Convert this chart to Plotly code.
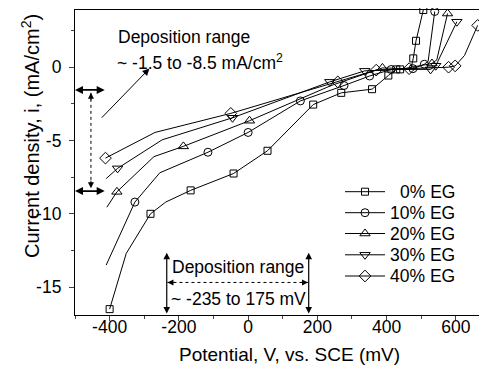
import plotly.graph_objects as go

# ---- data (potential in mV vs SCE, current density in mA/cm2) ----
labels = ["0% EG", "10% EG", "20% EG", "30% EG", "40% EG"]

pot_0 = [-400, -352, -282, -238, -166, -42, 56, 188, 269, 358, 405, 428, 439, 470, 477, 485, 506]
cur_0 = [-16.5, -12.7, -10.0, -9.2, -8.4, -7.25, -5.7, -2.55, -1.75, -1.5, -0.57, -0.15, -0.15, -0.12, 0.6, 1.8, 3.9]
mk_0 = [0, 2, 4, 5, 6, 7, 8, 9, 10, 11, 12, 14, 15, 16]

pot_10 = [-410, -327, -255, -116, 0, 151, 277, 351, 413, 476, 509, 520, 539]
cur_10 = [-13.5, -9.2, -7.2, -5.8, -4.45, -2.3, -1.25, -0.6, -0.16, -0.1, 0.2, 0.4, 3.8]
mk_10 = [1, 3, 4, 5, 6, 7, 8, 9, 10, 12]

pot_20 = [-408, -379, -272, -187, 4, 240, 388, 450, 531, 545, 576]
cur_20 = [-9.55, -8.5, -6.1, -5.4, -3.65, -1.25, -0.05, -0.1, 0.25, 0.5, 3.66]
mk_20 = [1, 3, 4, 6, 8, 10]

pot_30 = [-410, -377, -248, -45, 236, 337, 440, 527, 542, 603]
cur_30 = [-7.6, -6.9, -4.95, -3.45, -1.0, -0.25, -0.15, -0.15, 0.1, 3.1]
mk_30 = [1, 3, 4, 5, 7, 8, 9]

pot_40 = [-412, -269, -50, 259, 370, 465, 579, 598, 625, 663]
cur_40 = [-6.2, -4.45, -3.15, -1.0, -0.2, -0.1, 0.0, 0.09, 0.8, 2.85]
mk_40 = [0, 2, 3, 4, 5, 6, 7, 9]

x_ticks = [-400, -200, 0, 200, 400, 600]
x_ticktext = ["-400", "-200", "0", "200", "400", "600"]
y_ticks = [0, -5, -10, -15]
y_ticktext = ["0", "-5", "-10", "-15"]

series = [
    (pot_0, cur_0, mk_0, "square-open", 7),
    (pot_10, cur_10, mk_10, "circle-open", 8),
    (pot_20, cur_20, mk_20, "triangle-up-open", 9),
    (pot_30, cur_30, mk_30, "triangle-down-open", 9),
    (pot_40, cur_40, mk_40, "diamond-open", 9),
]

FONT = "Arial, Liberation Sans, sans-serif"
# page has an 8px body margin: figure is sized so the plot fills the window like the reference
W, H = 479, 361
ML, MR, MT, MB = 67, 0, 2, 54
PW, PH = W - ML - MR, H - MT - MB


def px2paper(xp, yp):
    """page pixel -> paper coordinates"""
    return (xp - 8 - ML) / PW, (H - MB - (yp - 8)) / PH


fig = go.Figure()

for (px, py, mk, sym, sz), name in zip(series, labels):
    fig.add_trace(go.Scatter(x=px, y=py, mode="lines", name=name, showlegend=False,
                             line=dict(color="black", width=1), hoverinfo="skip"))
    fig.add_trace(go.Scatter(x=[px[k] for k in mk], y=[py[k] for k in mk], mode="markers",
                             name=name, showlegend=False, cliponaxis=False,
                             marker=dict(symbol=sym, size=sz, color="black",
                                         line=dict(width=1, color="black"))))

# ---- legend drawn by hand (rows spaced like the reference) ----
leg_rows_y = [191.7, 212.7, 233.5, 254.8, 276.0]
shapes = []
ann = []
lx0, _ = px2paper(345, 0)
lx1, _ = px2paper(385, 0)
lxm, _ = px2paper(365, 0)
ltx, _ = px2paper(457, 0)
for (px, py, mk, sym, sz), name, ry in zip(series, labels, leg_rows_y):
    _, yy = px2paper(0, ry)
    shapes.append(dict(type="line", xref="paper", yref="paper", x0=lx0, x1=lx1, y0=yy, y1=yy,
                       line=dict(color="black", width=1)))
    fig.add_trace(go.Scatter(x=[lxm], y=[yy], mode="markers", xaxis="x2", yaxis="y2",
                             showlegend=False, hoverinfo="skip", cliponaxis=False,
                             marker=dict(symbol=sym, size=sz, color="black",
                                         line=dict(width=1, color="black"))))
    ann.append(dict(x=ltx, y=yy, xref="paper", yref="paper", text=name, showarrow=False,
                    xanchor="right", yanchor="middle",
                    font=dict(family=FONT, size=17.5, color="black")))

# left vertical range arrows
for yv in (-1.55, -8.45):
    ann.append(dict(x=-500, y=yv, ax=-410, ay=yv, xref="x", yref="y", axref="x", ayref="y",
                    showarrow=True, arrowside="end+start", arrowhead=2, startarrowhead=2,
                    arrowwidth=1.6, arrowsize=1.0, startarrowsize=1.0, arrowcolor="black",
                    standoff=0, startstandoff=0, text=""))
# heads of dotted vertical
ann.append(dict(x=-454, y=-1.75, ax=0, ay=9, xref="x", yref="y", showarrow=True,
                arrowhead=2, arrowwidth=1, arrowsize=1.2, arrowcolor="black", text="", standoff=0))
ann.append(dict(x=-454, y=-8.25, ax=0, ay=-9, xref="x", yref="y", showarrow=True,
                arrowhead=2, arrowwidth=1, arrowsize=1.2, arrowcolor="black", text="", standoff=0))
# diagonal arrow
ann.append(dict(x=-285, y=-0.09, ax=-427, ay=-3.55, xref="x", yref="y", axref="x", ayref="y",
                showarrow=True, arrowhead=2, arrowwidth=1, arrowsize=1.4, arrowcolor="black",
                text="", standoff=0))
# bottom vertical double arrows
for xv in (-235, 175):
    ann.append(dict(x=xv, y=-16.8, ax=xv, ay=-12.55, xref="x", yref="y", axref="x", ayref="y",
                    showarrow=True, arrowside="end+start", arrowhead=2, startarrowhead=2,
                    arrowwidth=1.2, arrowsize=1.1, startarrowsize=1.1, arrowcolor="black",
                    standoff=0, startstandoff=0, text=""))
# heads of dotted horizontal
ann.append(dict(x=-233, y=-14.68, ax=9, ay=0, xref="x", yref="y", showarrow=True,
                arrowhead=2, arrowwidth=1, arrowsize=1.2, arrowcolor="black", text="", standoff=0))
ann.append(dict(x=173, y=-14.68, ax=-9, ay=0, xref="x", yref="y", showarrow=True,
                arrowhead=2, arrowwidth=1, arrowsize=1.2, arrowcolor="black", text="", standoff=0))
# texts
tfont = dict(family=FONT, size=17.5, color="black")
ann.append(dict(x=-383, y=2.05, xref="x", yref="y", text="Deposition range", showarrow=False,
                xanchor="left", font=tfont))
ann.append(dict(x=-385, y=0.36, xref="x", yref="y", text="~ -1.5 to -8.5 mA/cm<sup>2</sup>",
                showarrow=False, xanchor="left", font=tfont))
ann.append(dict(x=-30, y=-13.6, xref="x", yref="y", text="Deposition range", showarrow=False,
                font=tfont))
ann.append(dict(x=-28, y=-15.8, xref="x", yref="y", text="~ -235 to 175 mV", showarrow=False,
                font=tfont))

# axis titles
xt_x, xt_y = px2paper(289, 354)
ann.append(dict(x=xt_x, y=xt_y, xref="paper", yref="paper", text="Potential, V, vs. SCE (mV)",
                showarrow=False, xanchor="center", yanchor="middle",
                font=dict(family=FONT, size=19, color="black")))
yt_x, yt_y = px2paper(31, 136)
ann.append(dict(x=yt_x, y=yt_y, xref="paper", yref="paper", textangle=-90,
                text="Current density, i, (mA/cm<sup>2</sup>)",
                showarrow=False, xanchor="center", yanchor="middle",
                font=dict(family=FONT, size=20, color="black")))

shapes += [
    dict(type="line", xref="x", yref="y", x0=-454, x1=-454, y0=-1.75, y1=-8.25,
         line=dict(color="black", width=1, dash="dot")),
    dict(type="line", xref="x", yref="y", x0=-233, x1=173, y0=-14.68, y1=-14.68,
         line=dict(color="black", width=1, dash="dot")),
]

fig.update_layout(
    width=W, height=H,
    margin=dict(l=ML, r=MR, t=MT, b=MB),
    paper_bgcolor="white", plot_bgcolor="white",
    font=dict(family=FONT, size=17.5, color="black"),
    annotations=ann, shapes=shapes, showlegend=False,
    xaxis=dict(range=[-500, 690], tickvals=x_ticks, ticktext=x_ticktext,
               ticks="outside", ticklen=5, tickwidth=1, ticklabelstandoff=-9,
               showline=True, linecolor="black", linewidth=1.2, mirror=True,
               showgrid=False, zeroline=False, automargin=False,
               minor=dict(dtick=100, tick0=0, ticks="outside", ticklen=3, showgrid=False)),
    yaxis=dict(range=[-16.9, 3.9], tickvals=y_ticks, ticktext=y_ticktext,
               ticks="outside", ticklen=5, tickwidth=1,
               showline=True, linecolor="black", linewidth=1.2,
               showgrid=False, zeroline=False, automargin=False, ticklabelstandoff=4,
               minor=dict(dtick=2.5, tick0=0, ticks="outside", ticklen=3, showgrid=False)),
    xaxis2=dict(range=[0, 1], overlaying="x", visible=False, fixedrange=True),
    yaxis2=dict(range=[0, 1], overlaying="y", visible=False, fixedrange=True),
)

fig.write_html("out.html")
